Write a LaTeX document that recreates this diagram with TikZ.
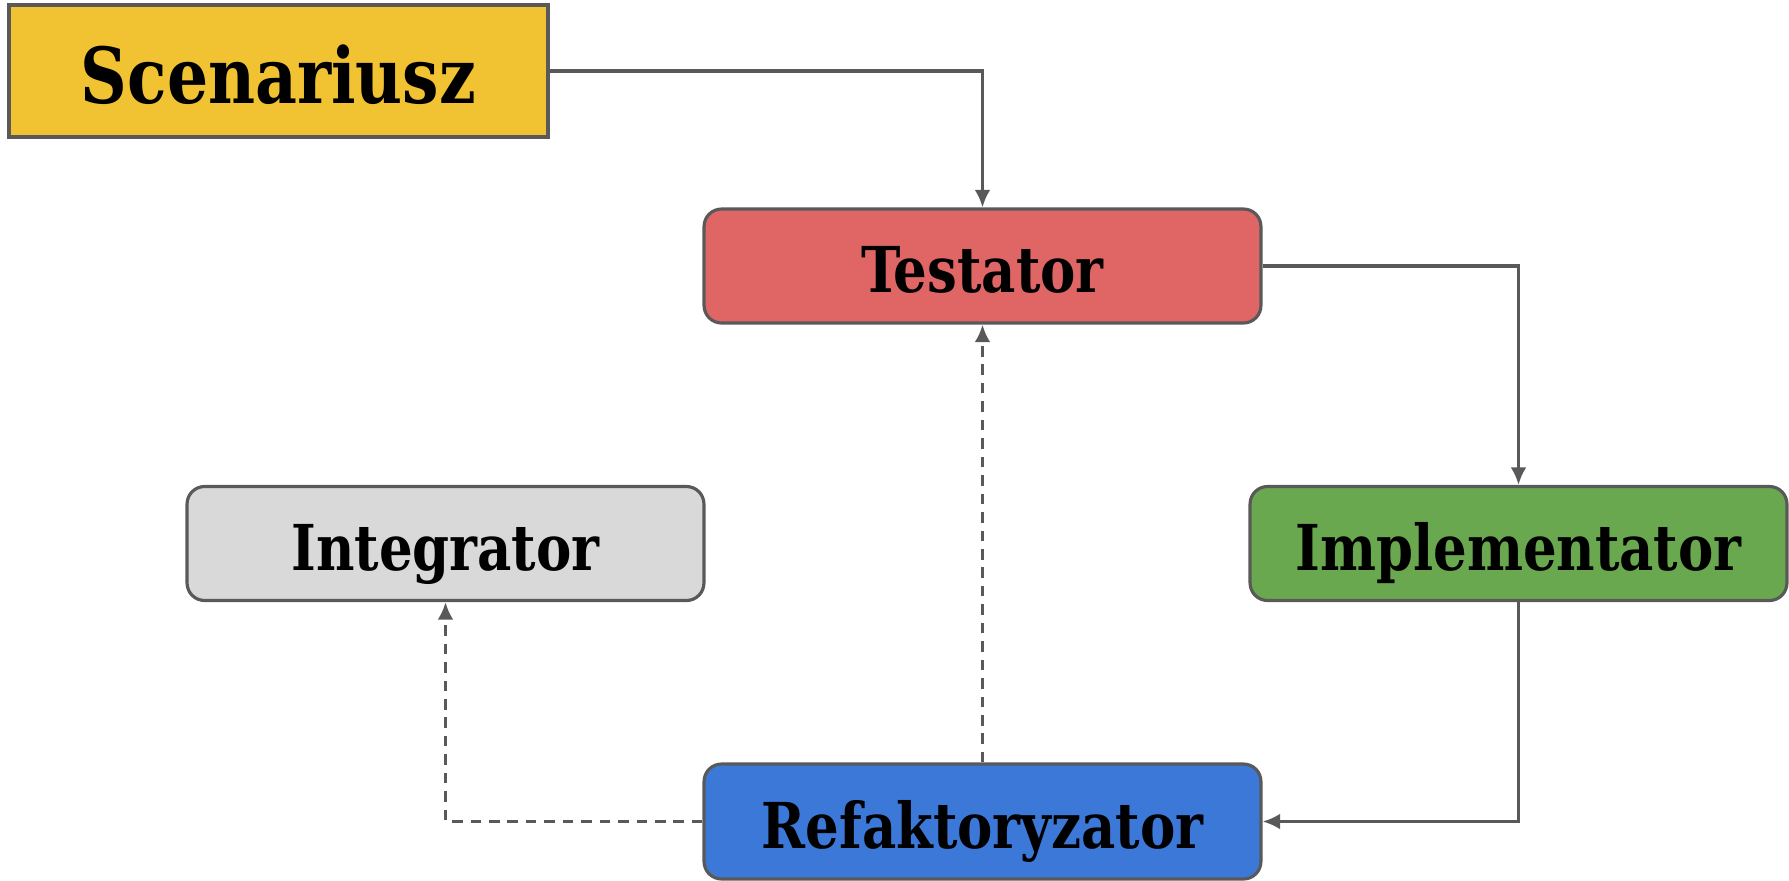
\documentclass[tikz,border=0pt]{standalone}
\usepackage{fontspec}
\setmainfont[FakeStretch=0.93]{DejaVu Serif Condensed}
\usetikzlibrary{arrows.meta}
\definecolor{edgegray}{HTML}{595959}
\definecolor{scenyellow}{HTML}{F1C232}
\definecolor{testred}{HTML}{E06666}
\definecolor{implgreen}{HTML}{6AA84F}
\definecolor{refablue}{HTML}{3C78D8}
\definecolor{integgray}{HTML}{D9D9D9}
\begin{document}
\begin{tikzpicture}[x=0.02cm, y=-0.02cm,
    box/.style={draw=edgegray, line width=1.8pt, inner sep=0pt, rounded corners=0.35cm,
      minimum height=2.28cm, text height=30.6pt, text depth=0pt,
      font=\fontsize{36}{40}\selectfont\bfseries},
    flow/.style={draw=edgegray, line width=1.8pt, -{Latex[length=10pt,width=9pt]}},
    back/.style={flow, dash pattern=on 6pt off 4.5pt}]
  \useasboundingbox (0,0) rectangle (1789,880);

  % Draw the boxes
  \node[box, fill=scenyellow, rounded corners=0pt, minimum width=10.78cm, minimum height=2.64cm,
    text height=37.4pt, font=\fontsize{44}{48}\selectfont\bfseries] (scen) at (278.5,71) {Scenariusz};
  \node[box, fill=testred, minimum width=11.14cm] (test) at (982.5,266) {Testator};
  \node[box, fill=implgreen, minimum width=10.74cm] (impl) at (1518.5,543.5) {Implementator};
  \node[box, fill=integgray, minimum width=10.34cm] (integ) at (445.5,543.5) {Integrator};
  \node[box, fill=refablue, minimum width=11.14cm, minimum height=2.3cm] (refa) at (982.5,821.5) {Refaktoryzator};

  % Draw the main cycle
  \draw[flow] (scen.east) -| (test.north);
  \draw[flow] (test.east) -| (impl.north);
  \draw[flow] (impl.south) |- (refa.east);

  % Draw the dashed feedback
  \draw[back] (refa.north) -- (test.south);
  \draw[back] (refa.west) -| (integ.south);
\end{tikzpicture}
\end{document}
